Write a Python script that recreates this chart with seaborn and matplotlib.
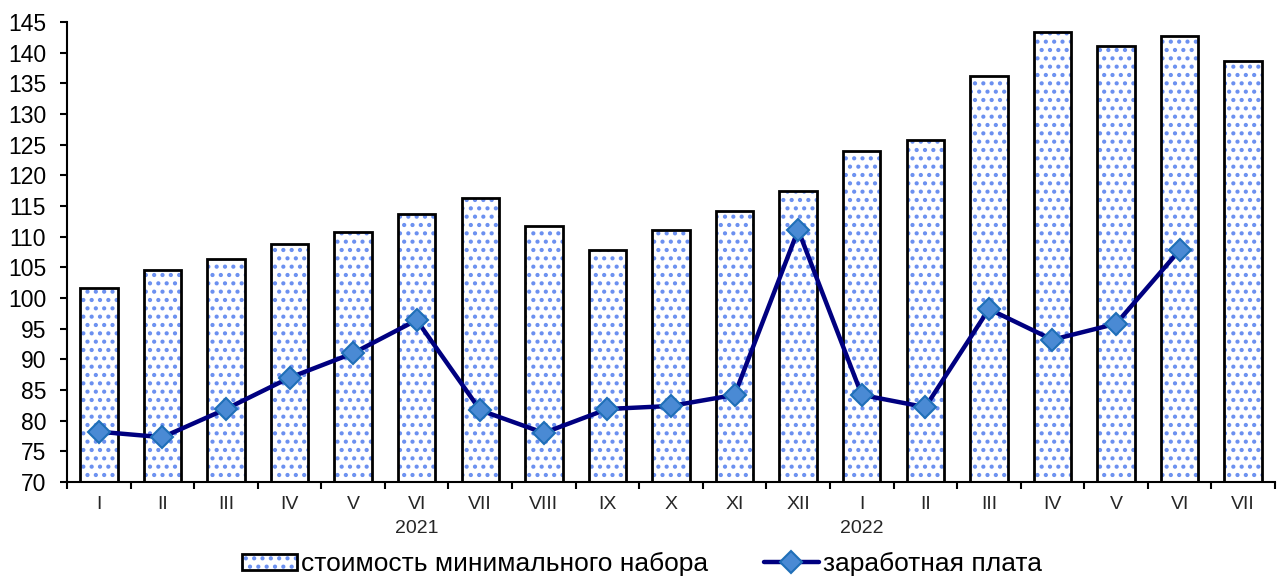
import numpy as np
import pandas as pd
import matplotlib
matplotlib.use('Agg')
import matplotlib.pyplot as plt
import seaborn as sns
from matplotlib.patches import Patch
from matplotlib.lines import Line2D
from matplotlib.legend_handler import HandlerTuple

# months of 2021 and 2022
months = ['I', 'II', 'III', 'IV', 'V', 'VI', 'VII', 'VIII', 'IX', 'X', 'XI', 'XII',
          'I', 'II', 'III', 'IV', 'V', 'VI', 'VII']
years = ['2021', '2022']
year_pos = [5, 12]

# cost of minimal set (bars)
cost = [101.6, 104.6, 106.4, 108.8, 110.8, 113.7, 116.3, 111.7, 107.8, 111.1,
        114.2, 117.4, 124.0, 125.8, 136.2, 143.4, 141.1, 142.7, 138.6]
# wage (line), no value for the last month
wage = [78.2, 77.3, 81.9, 87.0, 91.0, 96.4, 81.7, 78.0, 81.9, 82.4,
        84.2, 111.1, 84.2, 82.2, 98.2, 93.2, 95.8, 107.8, np.nan]

df = pd.DataFrame({'pos': range(len(months)), 'cost': cost, 'wage': wage})

sns.set_style('white')
plt.rcParams['font.family'] = ['Liberation Sans', 'DejaVu Sans']
plt.rcParams['hatch.linewidth'] = 1.8

fig = plt.figure(figsize=(12.79, 5.77), dpi=100)
ax = fig.add_axes([67 / 1279, 1 - 482 / 577, (1275 - 67) / 1279, (482 - 22) / 577])

dot_color = '#6b90f0'
line_color = '#000080'
mk = dict(marker='D', markersize=11, markerfacecolor='#4a8ad4',
          markeredgecolor='#1f6fb8', markeredgewidth=1.5)

# hatched fill
sns.barplot(data=df, x='pos', y='cost', ax=ax, color='white', width=0.59,
            edgecolor=dot_color, linewidth=0, hatch='..', zorder=1)
# black outlines
sns.barplot(data=df, x='pos', y='cost', ax=ax, fill=False, width=0.59,
            edgecolor='black', linewidth=2, zorder=2)

sns.lineplot(data=df, x='pos', y='wage', ax=ax, color=line_color, linewidth=3.2,
             zorder=3, **mk)

ax.set_ylim(70, 145)
ax.set_yticks(range(70, 146, 5))
ax.set_xlim(-0.5, len(months) - 0.5)
ax.set_xticks(np.arange(-0.5, len(months), 1.0))
ax.set_xticklabels([])
ax.tick_params(axis='both', direction='out', length=5, width=1.5, color='black',
               left=True, bottom=True, labelcolor='black')
ax.tick_params(axis='y', labelsize=16.5, pad=10)
xt = ax.get_xaxis_transform()
for i, m in enumerate(months):
    ax.text(i, -0.03, m, transform=xt, ha='center', va='top', fontsize=14)
for p, y in zip(year_pos, years):
    ax.text(p, -0.083, y, transform=xt, ha='center', va='top', fontsize=14)

ax.set_xlabel('')
ax.set_ylabel('')
for s in ['top', 'right']:
    ax.spines[s].set_visible(False)
for s in ['left', 'bottom']:
    ax.spines[s].set_color('black')
    ax.spines[s].set_linewidth(1.5)

bar_handle = (Patch(facecolor='white', edgecolor=dot_color, hatch='..', linewidth=0),
              Patch(fill=False, edgecolor='black', linewidth=2))
line_handle = Line2D([0], [0], color=line_color, lw=3.2, **mk)
leg = ax.legend([bar_handle, line_handle],
                ['стоимость минимального набора', 'заработная плата'],
                handler_map={tuple: HandlerTuple(ndivide=1)},
                loc='center', bbox_to_anchor=(0.476, -0.178), ncol=2,
                frameon=False, fontsize=19, handlelength=2.1, handleheight=0.55,
                handletextpad=0.15, columnspacing=2.1, labelcolor='black')

fig.savefig('out.png', dpi=100)
